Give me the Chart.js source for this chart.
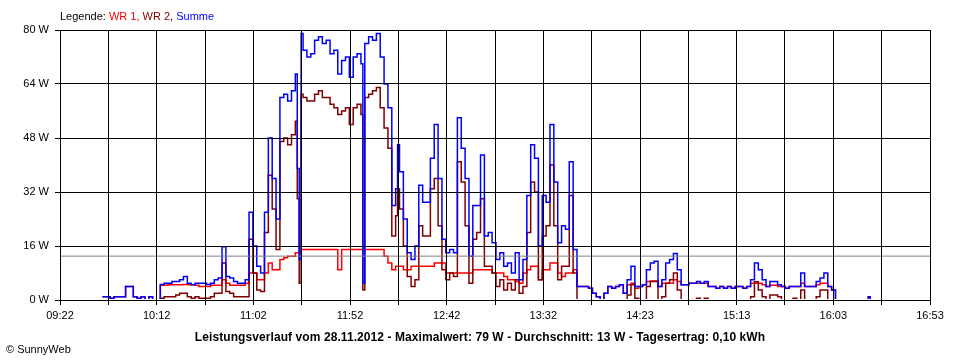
<!DOCTYPE html>
<html>
<head>
<meta charset="utf-8">
<script src="https://cdn.jsdelivr.net/npm/chart.js@4.4.1/dist/chart.umd.min.js"></script>
<style>
  body{margin:0;background:#fff;}
  #wrap{position:relative;width:960px;height:360px;font-family:"Liberation Sans",Arial,sans-serif;font-size:11px;color:#000;}
  #diagramm{position:absolute;left:0;top:0;}
  .legende{position:absolute;left:60px;top:10px;line-height:13px;white-space:pre;}
  .titel{position:absolute;left:0;width:960px;top:330px;text-align:center;font-weight:bold;font-size:12px;line-height:14px;letter-spacing:0.08px;}
  .copy{position:absolute;left:6px;top:343px;line-height:13px;}
</style>
</head>
<body>
<div id="wrap">
  <canvas id="diagramm" width="960" height="360"></canvas>
  <div class="legende">Legende: <span style="color:#ff0000">WR 1,</span> <span style="color:#800000">WR 2,</span> <span style="color:#0000ff">Summe</span></div>
  <div class="titel">Leistungsverlauf vom 28.11.2012 - Maximalwert: 79 W - Durchschnitt: 13 W - Tagesertrag: 0,10 kWh</div>
  <div class="copy">© SunnyWeb</div>
</div>
<script>
/* achsen */
const startZeit = "09:22";
const endZeit = "16:53";
const xBeschriftung = ["09:22","10:12","11:02","11:52","12:42","13:32","14:23","15:13","16:03","16:53"];
const yWerte = [0, 16, 32, 48, 64, 80];
const durchschnitt = 13;

/* messwerte (W), jeder wert gilt bis zum naechsten zeitpunkt */
const zeiten = [
  "09:44","09:46","09:48","09:50","09:52","09:54","09:56","09:58","10:00","10:02",
  "10:04","10:06","10:08","10:10","10:12","10:14","10:16","10:18","10:20","10:22",
  "10:24","10:26","10:28","10:30","10:32","10:34","10:36","10:38","10:40","10:42",
  "10:44","10:46","10:48","10:50","10:52","10:54","10:56","10:58","11:00","11:02",
  "11:04","11:06","11:08","11:10","11:12","11:14","11:16","11:18","11:20","11:22",
  "11:24","11:25","11:26","11:27","11:28","11:30","11:32","11:34","11:36","11:38",
  "11:40","11:42","11:44","11:46","11:48","11:50","11:52","11:54","11:56","11:58",
  "11:59","12:00","12:02","12:04","12:06","12:08","12:10","12:12","12:14","12:16",
  "12:17","12:18","12:20","12:22","12:24","12:26","12:28","12:30","12:32","12:34",
  "12:36","12:38","12:40","12:42","12:44","12:46","12:48","12:50","12:52","12:54",
  "12:56","12:58","13:00","13:02","13:04","13:06","13:08","13:10","13:12","13:14",
  "13:16","13:18","13:20","13:22","13:24","13:26","13:28","13:30","13:32","13:34",
  "13:36","13:38","13:40","13:42","13:44","13:46","13:48","13:50","13:52","13:54",
  "13:56","13:58","14:00","14:02","14:04","14:06","14:08","14:10","14:12","14:14",
  "14:16","14:18","14:20","14:22","14:24","14:26","14:28","14:30","14:32","14:34",
  "14:36","14:38","14:40","14:42","14:44","14:46","14:48","14:50","14:52","14:54",
  "14:56","14:58","15:00","15:02","15:04","15:06","15:08","15:10","15:12","15:14",
  "15:16","15:18","15:20","15:22","15:24","15:26","15:28","15:30","15:32","15:34",
  "15:36","15:38","15:40","15:42","15:44","15:46","15:48","15:50","15:52","15:54",
  "15:56","15:58","16:00","16:02","16:04","16:21","16:22"
];

const summe = [
  1,1,0.5,1,1,1,4,4,1,0.5,
  1,0,1,0,0,4.6,5,5,5.5,5.5,
  6,7,5,4.5,5,5,5,4.6,5,6,
  6.5,15.8,7,6.5,5.5,5,5,6,26,16,
  10,8,26,48,36,24,60,61,59,62,
  67,39,12,79,74,72,73,77,78,76,
  77,73,74,67,71,72,66,72,73,70,
  5,76,78,77,79,72,64,57,28,33,
  46,38,24,14,12,16,34,29,29,42,
  52,36,18,14,15,14,54,45,36,13,
  28,28,43,19,20,17,12,14,10,11,
  8,14,6,12,31,46,42,16,31,29,
  52,35,17,22,21,41,15,4,4,4,
  3.5,2,1,0,2,4,3.5,4,4.5,2,
  6,10,4,4,4.5,9,11,11.5,4,6,
  11,12,13.8,9,4.5,4.5,5,5,5.5,5,
  5.5,4,4,3.5,4,3.5,4,3.5,4,4,
  3.5,4,6,11,9,6,4,5.5,5.5,4.5,
  4,3.5,4,4,4,8,4,4,4,5.5,
  6.5,8,4,3,0,1,0
];

const wr1 = [
  1,1,0.5,1,1,1,4,4,1,0.5,
  1,0,1,0,0,4.4,4.4,4.5,4.5,4.5,
  4.5,4.6,4.5,4.5,4.4,4,4,4,4.4,4.4,
  4.4,6,5,4.4,4.4,4.4,4.4,5,8,8,
  6,6,8,11,9,9,12,12.5,13,13,
  14,14,14,15,15,15,15,15,15,15,
  15,15,15,9,15,15,15,15,15,15,
  15,15,15,15,15,15,13,11,9,10,
  10,10,9,9,10,10,10,10,10,10,
  11,11,11,8,8,8,8,8,8,8,
  9,9,9,9,9,8,8,8,7,6,
  6,5.5,5,8,9,10,10,6,9,9,
  11,11,8,7,8,8,9,4,4,4,
  3.5,2,1,0,2,4,3.5,4,4.5,2,
  4.5,5,3.5,4,4.5,5.5,5.6,5.6,4,5,
  5,5,6,5.5,4.5,4.5,5,5,5,5,
  5,4,4,3.5,4,3.5,4,3.5,4,4,
  3.5,4,5,5,5,4.5,4,4.4,4.4,4,
  4,3.5,4,4,4,5,4,4,4,4.5,
  5,5,4,3,0,1,0
];

const wr2 = [
  0,0,0,0,0,0,0,0,0,0,
  0,0,0,0,0,0.5,1,1,1,1.5,
  2,2,1,0.5,1,0.5,0.5,0.5,1,2,
  2,11,2.5,2,1,1,1,1,18,8,
  3,2.5,20,37,27,15,47,48,46,49,
  53,30,5,61,60,59,59,61,62,60,
  60,58,57,55,56,57,52,57,58,55,
  3,60,61,62,63,57,51,45,19,25,
  33,27,16,7,4,6,22,19,19,33,
  36,22,9,6,8,7,41,35,22,5,
  18,20,30,10,10,8,4,6,3,5,
  3,6,2,4,20,35,32,6,19,22,
  40,22,6,10,10,31,8,0,0,0,
  0,0,0,0,0,0,0,0,0,0,
  1.5,4.5,0.5,0,0,4,5.5,5.5,0,1,
  5,6,8,3,0,0,0,0,0.5,0,
  0.5,0,0,0,0,0,0,0,0,0,
  0,0,1,5.4,3,1,0,1.5,1.5,1,
  0,0,0,0.5,0,3,0,0,0,1,
  3,3,0,0,0,0,0
];

function inMinuten(hhmm){
  const [h, m] = hhmm.split(":").map(Number);
  return h*60 + m;
}
const t0 = inMinuten(startZeit);
const tEnde = inMinuten(endZeit) - t0;

function punkte(werte){
  return zeiten.map((z,i)=>({x: inMinuten(z) - t0, y: werte[i]}));
}

// 18 gitterfelder, jede zweite linie beschriftet
const gitterFelder = (xBeschriftung.length - 1) * 2;
const xTicks = [];
for(let i=0;i<=gitterFelder;i++) xTicks.push(i*tEnde/gitterFelder);

// nullwerte verschwinden unter der achse
const linie = (label, werte, farbe) => ({
  label, data: punkte(werte), borderColor: farbe, borderWidth: 1.5,
  stepped: "before", pointRadius: 0, fill: false,
  clip: {left: 0, top: 2, right: 0, bottom: -1}
});

Chart.defaults.font.family = '"Liberation Sans", Arial, sans-serif';
Chart.defaults.font.size = 11;
Chart.defaults.color = "#000";

new Chart(document.getElementById("diagramm"), {
  type: "line",
  data: {
    datasets: [
      {label:"Durchschnitt", data:[{x:0,y:durchschnitt},{x:tEnde,y:durchschnitt}],
       borderColor:"#808080", borderWidth:1, pointRadius:0},
      linie("Summe", summe, "#0000ff"),
      linie("WR 2", wr2, "#800000"),
      linie("WR 1", wr1, "#ff0000")
    ]
  },
  options: {
    responsive: false,
    animation: false,
    events: [],
    layout: {padding: {left:0, top:30, right:30, bottom:0}},
    plugins: {legend:{display:false}, tooltip:{enabled:false}},
    scales: {
      x: {
        type: "linear", min: 0, max: tEnde,
        afterBuildTicks: s => { s.ticks = xTicks.map(v=>({value:v})); },
        afterFit: s => { s.height = 60; },
        grid: {color:"#000", lineWidth:1, tickLength:5, z:1},
        border: {color:"#000", z:1},
        ticks: {
          autoSkip:false, maxRotation:0, padding:4,
          callback: (v, i) => i % 2 === 0 ? xBeschriftung[i/2] : ""
        }
      },
      y: {
        min: 0, max: 80,
        afterBuildTicks: s => { s.ticks = yWerte.map(v=>({value:v})); },
        afterFit: s => { s.width = 60; },
        grid: {color:"#000", lineWidth:1, tickLength:5, z:1},
        border: {color:"#000", z:1},
        ticks: {padding:6, callback: v => v + " W"}
      }
    }
  }
});
</script>
</body>
</html>
